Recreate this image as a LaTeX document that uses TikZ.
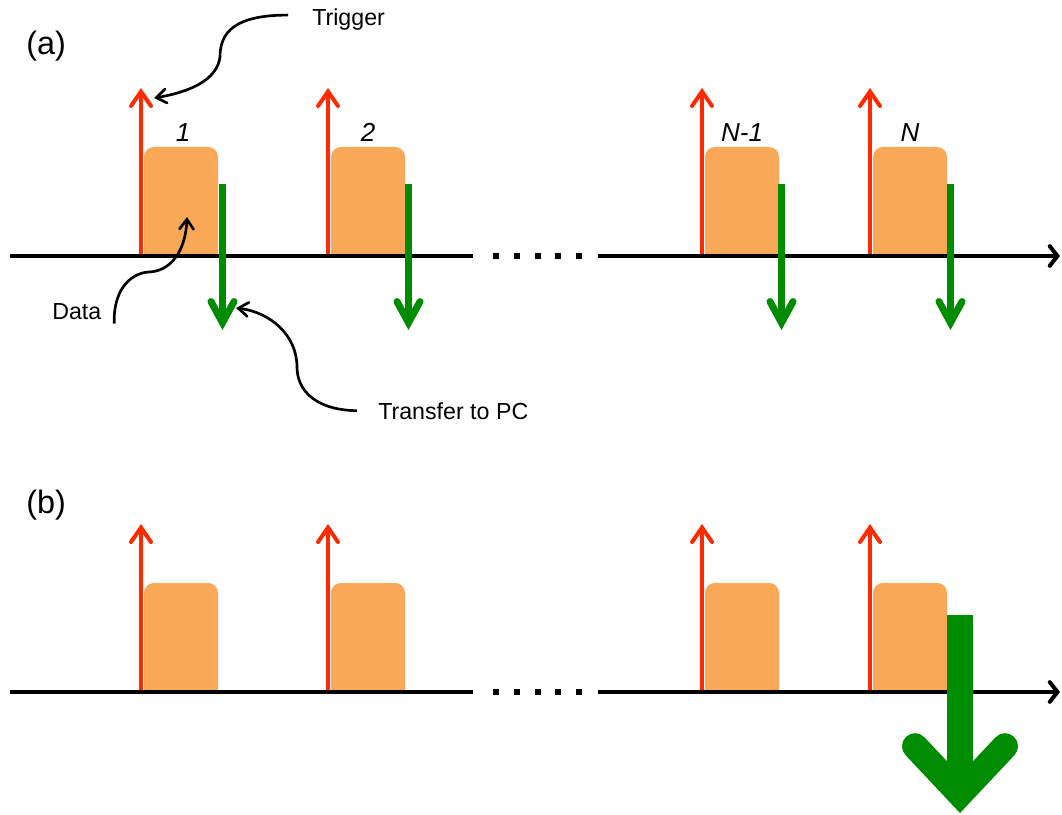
\documentclass[tikz,border=0pt]{standalone}
\usepackage{fontspec}
\setmainfont{Liberation Sans}
\usetikzlibrary{arrows.meta}
\definecolor{myorange}{RGB}{249,168,87}
\definecolor{myred}{RGB}{255,42,0}
\definecolor{mygreen}{RGB}{0,140,0}

\begin{document}
\begin{tikzpicture}[x=0.025cm, y=-0.025cm,
  font=\fontsize{16.5}{20}\selectfont,
  axis/.style={line width=2.85pt, -{Straight Barb[length=5.5pt, width=14pt, line cap=round, line join=miter]}},
  trig/.style={myred, line width=2.85pt, -{Straight Barb[length=10.3pt, width=14.2pt, line cap=round, line join=miter]}},
  xfer/.style={mygreen, line width=5pt, -{Straight Barb[length=15pt, width=16.4pt, line cap=round, line join=miter]}},
  bigxfer/.style={mygreen, line width=18.5pt, -{Straight Barb[length=34pt, width=64pt, line cap=round, line join=miter]}},
  note/.style={black, line width=1.9pt, -{Straight Barb[length=7pt, width=10pt, line cap=round, line join=miter]}},
  lbl/.style={inner sep=0pt, anchor=base west},
  num/.style={inner sep=0pt, anchor=base, font=\fontsize{18.5}{22}\selectfont\itshape}]
  \useasboundingbox (0,0) rectangle (1062,814);

  % Data blocks (rounded on top only)
  \foreach \y in {256,692}
    \foreach \x in {144,331,705,873}
      \fill[myorange] (\x,\y) -- (\x,\y-60) [rounded corners=7pt] -- (\x,\y-109)
        -- (\x+74,\y-109) -- (\x+74,\y-60) [sharp corners] -- (\x+74,\y) -- cycle;

  % Triggers
  \foreach \y in {256,692}
    \foreach \x in {141,328,702,870}
      \draw[trig] (\x,\y) -- (\x,\y-168);

  % Time axes with the gap
  \foreach \y in {256,692} {
    \draw[line width=2.85pt] (10,\y) -- (473,\y);
    \draw[axis] (598,\y) -- (1060,\y);
    \foreach \x in {496,517,538,558,579}
      \fill (\x-2.8,\y-2.8) rectangle (\x+2.8,\y+2.8);
  }

  % Transfers after every block
  \foreach \x in {222.5,408.5,781.5,950.5}
    \draw[xfer] (\x,184) -- (\x,330);

  % One transfer at the end
  \draw[bigxfer] (960,615) -- (960,813);

  % Block numbers
  \node[num] (n1) at (183,141) {1};
  \node[num] (n2) at (368,141) {2};
  \node[num] (n3) at (742,142) {N-1};
  \node[num] (n4) at (910,142) {N};

  % Panel labels
  \node[lbl, font=\fontsize{23}{27}\selectfont] (pa) at (26,55) {(a)};
  \node[lbl, font=\fontsize{23}{27}\selectfont] (pb) at (26,513) {(b)};

  % Annotation
  \node[lbl] (trigger) at (312,26) {Trigger};
  \node[lbl] (data) at (52,319) {Data};
  \node[lbl] (transfer) at (378,419) {Transfer to PC};
  \coordinate (trigtip) at (154,98);
  \coordinate (datatip) at (187,217);
  \coordinate (xfertip) at (236,308);
  \draw[note] ([xshift=-17pt,yshift=3.5pt]trigger.west) .. controls (235,15) and (220,32) .. (220,57)
    .. controls (217,80) and (190,92) .. (trigtip);
  \draw[note] ([xshift=9pt,yshift=-3pt]data.south east) .. controls (113,285) and (135,272) .. (150,272)
    .. controls (175,270) and (186,245) .. (datatip);
  \draw[note] ([xshift=-15pt]transfer.west) .. controls (315,410) and (297,390) .. (297,367)
    .. controls (297,335) and (270,312) .. (xfertip);

\end{tikzpicture}
\end{document}
